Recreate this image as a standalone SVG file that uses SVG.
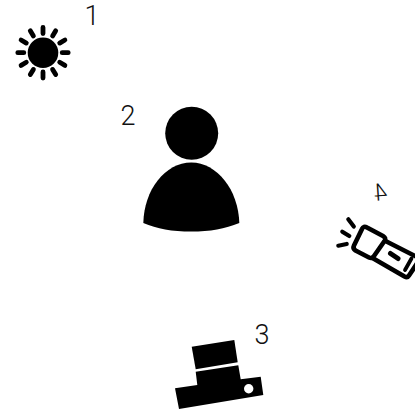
<svg xmlns="http://www.w3.org/2000/svg" width="415" height="409" viewBox="0 0 415 409">
<defs><filter id="soft" x="-5%" y="-5%" width="110%" height="110%"><feGaussianBlur stdDeviation="0.7"/></filter></defs>
<style>
.n{font-family:"Roboto","Liberation Sans",sans-serif;font-weight:300;font-size:27px;fill:#111}
.s{fill:none;stroke:#000;stroke-linecap:round;stroke-linejoin:round}
</style>
<rect width="415" height="409" fill="#fff"/>
<g id="connectors"/>
<g id="sun">
<circle cx="43" cy="52.700" r="15.300" fill="#000"/>
<g class="s" stroke-width="4.800">
<path d="M43 27.500V33.500M43 72V78M17.800 52.700H23.800M62.200 52.700H68.200"/>
<path d="M30.300 30.800L33.400 36M52.600 69.400L55.700 74.600M21.100 40L26.300 43.100M59.700 62.300L64.900 65.400"/>
<path d="M55.700 30.800L52.600 36M33.400 69.400L30.300 74.600M64.900 40L59.700 43.100M26.300 62.300L21.100 65.400"/>
</g>
<text class="n" x="84.500" y="25">1</text>
</g>
<g id="person">
<g filter="url(#soft)">
<circle cx="191.700" cy="133.300" r="26.500" fill="#000"/>
<path d="M143.300 223C144 190 165 162.500 191.300 162.500C217 162.500 238.500 190 239.300 223C225 229 210 231.500 191.300 231.500C172 231.500 157 229 143.300 223Z" fill="#000"/>
</g>
<text class="n" x="120.500" y="125">2</text>
</g>
<g id="camera">
<path d="M191.700 346.700L234.300 340L237.700 362.300L195.700 369.300Z" fill="#000"/>
<path d="M195.700 371.800L238.300 365.200L240.700 379.300L260.700 376.700L263.300 395L179 409L175 388.300L197.300 385Z" fill="#000"/>
<circle cx="248.700" cy="388.700" r="4.700" fill="#fff"/>
<text class="n" x="254.500" y="344">3</text>
</g>
<g id="flashlight">
<path d="M367 227.500L383 236Q386.500 238 384.500 241L374 256Q372 259 369 257.500L355.500 250.500Q352.500 248.500 354 245.500L362 229Q363.500 225.500 367 227.500Z" fill="#fff" stroke="#000" stroke-width="4.600" stroke-linejoin="round"/>
<path d="M385 240.700L418 257.500M372.500 258L404.500 276.500Q407.500 278 409 275.500L418 262" fill="none" stroke="#000" stroke-width="4.600" stroke-linecap="round" stroke-linejoin="round"/>
<path d="M390.500 253.500L398 258.500" class="s" stroke-width="5"/>
<path d="M411.500 258.500L405 270" class="s" stroke-width="3.800"/>
<path d="M348.300 219.300L353.800 226.500M342.300 231.700L349.300 236M338.300 245.700L346.700 244" class="s" stroke-width="4.200"/>
<text class="n" transform="translate(388 200) rotate(-4) scale(-1 1)" x="0" y="0" style="font-size:24px">4</text>
</g>
</svg>
